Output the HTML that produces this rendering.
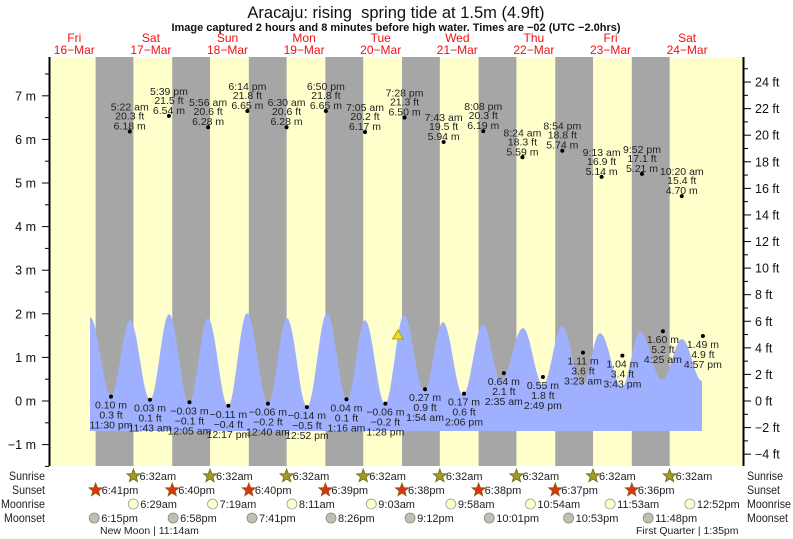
<!DOCTYPE html>
<html><head><meta charset="utf-8"><style>
html,body{margin:0;padding:0;background:#fff;}
svg{display:block;font-family:"Liberation Sans",sans-serif;}
</style></head><body>
<svg id="s" width="793" height="539" xmlns="http://www.w3.org/2000/svg">
<rect x="0" y="0" width="793" height="539" fill="#fff"/>
<rect x="50" y="57" width="693" height="409" fill="#ffffcc"/>
<g id="bands"></g>
<path id="tide" fill="#9fb0ff" d=""/>
<g id="ax"></g>
<g id="lbl" font-size="10.5" fill="#222" text-anchor="middle"></g>
<polygon points="398,330 392.5,339 403.5,339" fill="#e8e020" stroke="#9a9400" stroke-width="0.8"/>
<text x="396" y="18" font-size="16.5" text-anchor="middle" fill="#111">Aracaju: rising&#160; spring tide at 1.5m (4.9ft)</text>
<text x="396" y="31" font-size="11" font-weight="bold" text-anchor="middle" fill="#111">Image captured 2 hours and 8 minutes before high water. Times are −02 (UTC −2.0hrs)</text>
<g id="days" font-size="12" fill="#ee1111" text-anchor="middle"></g>
<g id="bot" font-size="11" fill="#222"></g>
</svg>
<script>
const NS="http://www.w3.org/2000/svg";
function el(p,tag,a,txt){const e=document.createElementNS(NS,tag);for(const k in a)e.setAttribute(k,a[k]);if(txt!==undefined)e.textContent=txt;document.getElementById(p).appendChild(e);return e;}
const X=t=>36+t*76.6/24, Ym=m=>401-43.6*m;
for(let d=0;d<8;d++){const a=X(24*d+18.68),b=X(24*(d+1)+6.53);el('bands','rect',{x:a,y:57,width:b-a,height:409,fill:'#a6a6a6'});}
const ex=[[90,317],[111,396],[130,320],[150,400],[169,314],[189,403],[208,318],[228,406],[247,313],[268,403],[287,318],[307,407],[327,313],[347,400],[365,320],[385,404],[404,315],[424,391],[443,322],[463,395],[483,324],[501,381],[523,328],[543,385],[562,326],[582,385],[600,333],[622,387],[640,332],[662,380],[682,339],[702,381]];
let d="M90,431 L90,317";
for(let i=0;i<ex.length-1;i++){const [x0,y0]=ex[i],[x1,y1]=ex[i+1];for(let k=1;k<=12;k++){const f=k/12;const x=x0+(x1-x0)*f;const y=y0+(y1-y0)*(1-Math.cos(Math.PI*f))/2;d+=` L${x.toFixed(1)},${y.toFixed(1)}`;}}
d+=" L702,431 Z";document.getElementById('tide').setAttribute('d',d);
el('ax','line',{x1:49.5,y1:57,x2:49.5,y2:466,stroke:'#000','stroke-width':2});
el('ax','line',{x1:743.5,y1:57,x2:743.5,y2:466,stroke:'#000','stroke-width':2});
for(let m=-1.5;m<=7.6;m+=0.5){const y=Ym(m);const maj=Math.abs(m-Math.round(m))<0.01;el('ax','line',{x1:maj?42:45,y1:y,x2:49,y2:y,stroke:'#000','stroke-width':1});if(maj)el('ax','text',{x:36,y:y+4.5,'font-size':12.5,'text-anchor':'end',fill:'#111'},(m<0?'−':'')+Math.abs(m)+' m');}
for(let f=-5;f<=25;f++){const y=401-13.29*f;if(y<58||y>466)continue;const maj=f%2==0;el('ax','line',{x1:744,y1:y,x2:maj?751:748,y2:y,stroke:'#000','stroke-width':1});if(maj)el('ax','text',{x:755,y:y+4.5,'font-size':12.5,fill:'#111'},(f<0?'−':'')+Math.abs(f)+' ft');}
const hi=[[29.37,'5:22 am','20.3 ft',6.18],[41.65,'5:39 pm','21.5 ft',6.54],[53.93,'5:56 am','20.6 ft',6.28],[66.23,'6:14 pm','21.8 ft',6.65],[78.5,'6:30 am','20.6 ft',6.28],[90.83,'6:50 pm','21.8 ft',6.65],[103.08,'7:05 am','20.2 ft',6.17],[115.47,'7:28 pm','21.3 ft',6.50],[127.72,'7:43 am','19.5 ft',5.94],[140.13,'8:08 pm','20.3 ft',6.19],[152.4,'8:24 am','18.3 ft',5.59],[164.9,'8:54 pm','18.8 ft',5.74],[177.22,'9:13 am','16.9 ft',5.14],[189.87,'9:52 pm','17.1 ft',5.21],[202.33,'10:20 am','15.4 ft',4.70]];
for(const [t,a,b,m] of hi){const x=X(t),y=Ym(m);el('lbl','circle',{cx:x,cy:y,r:2,fill:'#000'});el('lbl','text',{x:x,y:y-21},a);el('lbl','text',{x:x,y:y-12},b);el('lbl','text',{x:x,y:y-2},m.toFixed(2)+' m');}
const lo=[[23.5,'0.10 m','0.3 ft','11:30 pm',0.10],[35.72,'0.03 m','0.1 ft','11:43 am',0.03],[48.08,'−0.03 m','−0.1 ft','12:05 am',-0.03],[60.28,'−0.11 m','−0.4 ft','12:17 pm',-0.11],[72.67,'−0.06 m','−0.2 ft','12:40 am',-0.06],[84.87,'−0.14 m','−0.5 ft','12:52 pm',-0.14],[97.27,'0.04 m','0.1 ft','1:16 am',0.04],[109.47,'−0.06 m','−0.2 ft','1:28 pm',-0.06],[121.9,'0.27 m','0.9 ft','1:54 am',0.27],[134.1,'0.17 m','0.6 ft','2:06 pm',0.17],[146.58,'0.64 m','2.1 ft','2:35 am',0.64],[158.82,'0.55 m','1.8 ft','2:49 pm',0.55],[171.38,'1.11 m','3.6 ft','3:23 am',1.11],[183.72,'1.04 m','3.4 ft','3:43 pm',1.04],[196.42,'1.60 m','5.2 ft','4:25 am',1.60],[208.95,'1.49 m','4.9 ft','4:57 pm',1.49]];
for(const [t,a,b,c,m] of lo){const x=X(t),y=Ym(m);el('lbl','circle',{cx:x,cy:y,r:2,fill:'#000'});el('lbl','text',{x:x,y:y+12},a);el('lbl','text',{x:x,y:y+22},b);el('lbl','text',{x:x,y:y+32},c);}
const dn=['Fri','Sat','Sun','Mon','Tue','Wed','Thu','Fri','Sat'];
for(let i=0;i<9;i++){const x=X(24*i+12);el('days','text',{x:x,y:42},dn[i]);el('days','text',{x:x,y:54},(16+i)+'−Mar');}
const rows=[['Sunrise',480,36],['Sunset',494,33],['Moonrise',508,44],['Moonset',522,41]];
for(const [n,y,w] of rows){el('bot','text',{x:45-w,y:y,'font-size':12,textLength:w,lengthAdjust:'spacingAndGlyphs'},n);el('bot','text',{x:747,y:y,'font-size':12,textLength:w,lengthAdjust:'spacingAndGlyphs'},n);}
function star(x,y,fill,stroke){let p=[];for(let k=0;k<10;k++){const r=k%2?3:7,a=-Math.PI/2+k*Math.PI/5;p.push((x+r*Math.cos(a)).toFixed(1)+','+(y+r*Math.sin(a)).toFixed(1));}el('bot','polygon',{points:p.join(' '),fill:fill,stroke:stroke,'stroke-width':0.8});}
for(let i=1;i<=8;i++){const x=X(24*i+6.53);star(x,476,'#a09a2a','#6f6a10');el('bot','text',{x:x+6,y:480},'6:32am');}
const ss=['6:41pm','6:40pm','6:40pm','6:39pm','6:38pm','6:38pm','6:37pm','6:36pm'];
for(let i=0;i<8;i++){const x=X(24*i+18.68);star(x,490,'#dd3311','#8a5a10');el('bot','text',{x:x+6,y:494},ss[i]);}
const mr=[[6.48,'6:29am'],[7.32,'7:19am'],[8.18,'8:11am'],[9.05,'9:03am'],[9.97,'9:58am'],[10.9,'10:54am'],[11.88,'11:53am'],[12.87,'12:52pm']];
for(let i=0;i<8;i++){const x=X(24*(i+1)+mr[i][0]);el('bot','circle',{cx:x,cy:504,r:5,fill:'#ffffcc',stroke:'#999','stroke-width':0.8});el('bot','text',{x:x+7,y:508},mr[i][1]);}
const ms=[[18.25,'6:15pm'],[18.97,'6:58pm'],[19.68,'7:41pm'],[20.43,'8:26pm'],[21.2,'9:12pm'],[22.02,'10:01pm'],[22.88,'10:53pm'],[23.8,'11:48pm']];
for(let i=0;i<8;i++){const x=X(24*i+ms[i][0]);el('bot','circle',{cx:x,cy:518,r:5,fill:'#c0c0b0',stroke:'#888','stroke-width':0.8});el('bot','text',{x:x+7,y:522},ms[i][1]);}
el('bot','text',{x:100,y:534,'font-size':10.5},'New Moon | 11:14am');
el('bot','text',{x:636,y:534,'font-size':10.5},'First Quarter | 1:35pm');
</script>
</body></html>
